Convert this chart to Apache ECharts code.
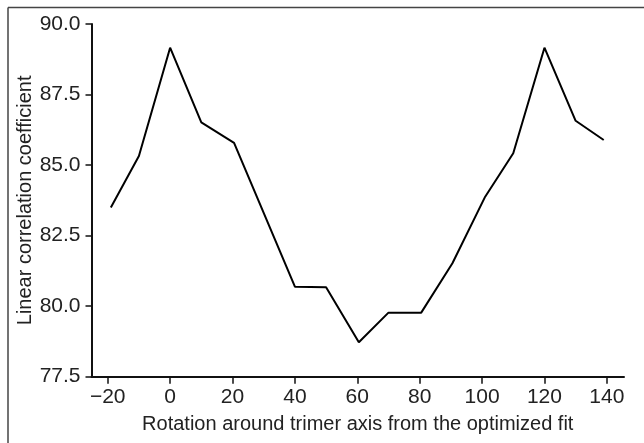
<!DOCTYPE html>
<html>
<head>
<meta charset="utf-8">
<script src="https://cdn.jsdelivr.net/npm/echarts@6/dist/echarts.min.js"></script>
<style>html,body{margin:0;padding:0;background:#fff}#c{width:644px;height:443px}</style>
</head>
<body>
<div id="c"></div>
<script>
var rotation = [-19, -10, 0, 10, 20.5, 40, 50, 60.5, 70, 80.5, 90.5, 101, 110, 120, 130, 139];
var coefficient = [83.5, 85.32, 89.16, 86.51, 85.79, 80.69, 80.67, 78.72, 79.77, 79.77, 81.52, 83.88, 85.42, 89.16, 86.57, 85.89];
var xTicks = [-20, 0, 20, 40, 60, 80, 100, 120, 140];
var yTicks = [77.5, 80.0, 82.5, 85.0, 87.5, 90.0];

var FONT = "'Liberation Sans', Arial, sans-serif";
var chart = echarts.init(document.getElementById('c'), null, {renderer: 'canvas'});
chart.setOption({
  animation: false,
  backgroundColor: '#fff',
  grid: {left: 91.5, top: 24, right: 20, bottom: 66.3, containLabel: false},
  graphic: [
    {type: 'line', shape: {x1: 8, y1: 7.5, x2: 644, y2: 7.5}, style: {stroke: '#444', lineWidth: 1.5}},
    {type: 'line', shape: {x1: 8, y1: 7.5, x2: 8, y2: 443}, style: {stroke: '#444', lineWidth: 1.5}}
  ],
  xAxis: {
    type: 'value', min: -25.2, max: 145.5,
    name: 'Rotation around trimer axis from the optimized fit',
    nameLocation: 'middle', nameGap: 38, nameMoveOverlap: false,
    nameTextStyle: {fontFamily: FONT, fontSize: 20, color: '#222'},
    axisLine: {show: true, onZero: false, lineStyle: {color: '#111', width: 2}},
    axisTick: {show: true, length: 7, lineStyle: {color: '#111', width: 1.5}, customValues: xTicks},
    axisLabel: {fontFamily: FONT, fontSize: 21, color: '#222', margin: 10, customValues: xTicks,
      formatter: function (v) { return v < 0 ? '\u2212' + Math.abs(v) : String(v); }},
    splitLine: {show: false}
  },
  yAxis: {
    type: 'value', min: 77.5, max: 90, interval: 2.5,
    name: 'Linear correlation coefficient',
    nameLocation: 'middle', nameGap: 56, nameMoveOverlap: false,
    nameTextStyle: {fontFamily: FONT, fontSize: 20, color: '#222'},
    axisLine: {show: true, onZero: false, lineStyle: {color: '#111', width: 2}},
    axisTick: {show: true, length: 6, lineStyle: {color: '#111', width: 1.5}},
    axisLabel: {fontFamily: FONT, fontSize: 21, color: '#222', margin: 11,
      formatter: function (v) { return v.toFixed(1); }},
    splitLine: {show: false}
  },
  series: [{
    type: 'line',
    data: rotation.map(function (x, i) { return [x, coefficient[i]]; }),
    showSymbol: false,
    lineStyle: {color: '#000', width: 2},
    clip: false
  }]
});
</script>
</body>
</html>
